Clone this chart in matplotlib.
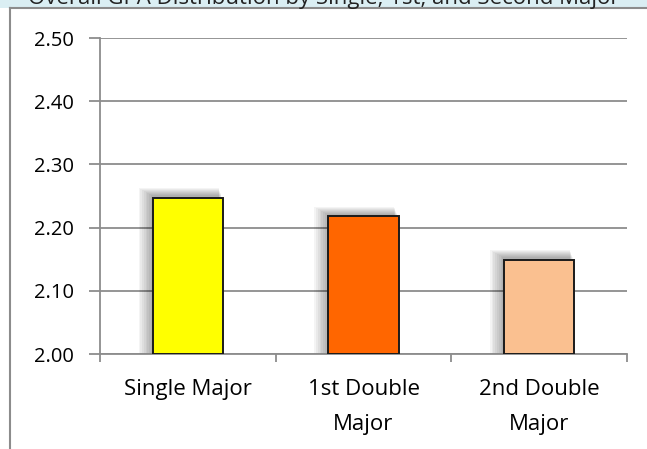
import matplotlib.pyplot as plt
from matplotlib.patches import Rectangle

# data
categories = ["Single Major", "1st Double\nMajor", "2nd Double\nMajor"]
values = [2.247, 2.218, 2.149]
colors = ["#FFFF00", "#FF6600", "#FAC090"]
yticks = [2.00, 2.10, 2.20, 2.30, 2.40, 2.50]

plt.rcParams['font.family'] = ['Open Sans', 'DejaVu Sans']

fig = plt.figure(figsize=(6.47, 4.49), dpi=100)
W, H = 647, 449

# light blue banner at the very top with clipped title
fig.patches.append(Rectangle((0, 1 - 8 / H), 1, 8 / H, transform=fig.transFigure,
                             facecolor="#DAEEF3", edgecolor="none", zorder=0))
fig.text(0.5, 1 + 2 / H, "Overall GPA Distribution by Single, 1st, and Second Major",
         ha="center", va="center", fontsize=16, color="#222222")

# chart area border (left and top)
fig.add_artist(plt.Line2D([10 / W, 10 / W], [0, 1 - 8 / H], transform=fig.transFigure,
                          color="#8c8c8c", lw=1.5))
fig.add_artist(plt.Line2D([10 / W, 1], [1 - 8 / H, 1 - 8 / H], transform=fig.transFigure,
                          color="#8c8c8c", lw=1.5))

ax = fig.add_axes([100 / W, 1 - 354 / H, 527 / W, 316 / H])
x = list(range(len(categories)))
width = 0.4

# soft shadow up and to the left
for i in range(8):
    off = 0.01 + i * 0.006
    ax.bar([p - off for p in x], [v + 0.004 + i * 0.0016 - 2.0 for v in values],
           width=width + i * 0.008, bottom=2.0, color="black", alpha=0.045,
           linewidth=0, zorder=2)

ax.bar(x, [v - 2.0 for v in values], width=width, bottom=2.0, color=colors,
       edgecolor="#1a1a1a", linewidth=1.4, zorder=3)

ax.set_xlim(-0.5, 2.5)
ax.set_ylim(2.0, 2.5)
ax.set_yticks(yticks)
ax.set_yticklabels([f"{t:.2f}" for t in yticks], fontsize=14.5)
ax.set_xticks([-0.5, 0.5, 1.5, 2.5], minor=False)
ax.set_xticklabels([])
ax.set_xticks(x, minor=True)
ax.set_xticklabels(categories, minor=True, fontsize=16, linespacing=1.85)
ax.tick_params(axis="x", which="minor", length=0, pad=18)
ax.tick_params(axis="x", which="major", length=6, color="#8c8c8c", width=1.3)
ax.tick_params(axis="y", length=8, color="#8c8c8c", width=1.3, pad=11)

ax.yaxis.grid(True, color="#8c8c8c", linewidth=1.3)
ax.set_axisbelow(True)
for s in ["top", "right"]:
    ax.spines[s].set_visible(False)
for s in ["left", "bottom"]:
    ax.spines[s].set_color("#8c8c8c")
    ax.spines[s].set_linewidth(1.3)

fig.savefig("out.png", dpi=100)
